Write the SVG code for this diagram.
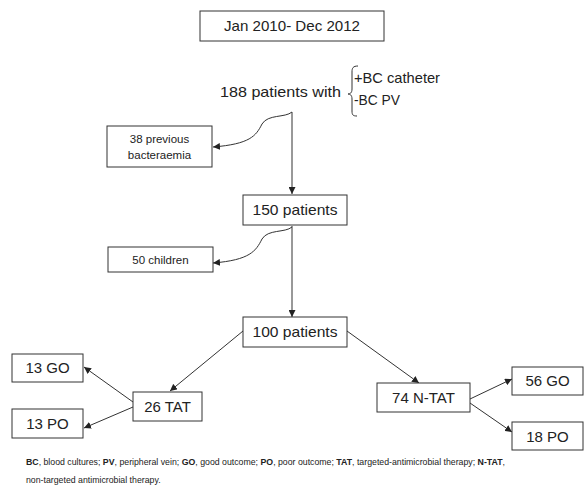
<svg xmlns="http://www.w3.org/2000/svg" width="584" height="486" viewBox="0 0 584 486">
<defs>
<marker id="ah" viewBox="0 0 10 10" refX="10" refY="5" markerWidth="7" markerHeight="7" markerUnits="userSpaceOnUse" orient="auto">
<path d="M0,0 L10,5 L0,10 z" fill="#222"/>
</marker>
<style>
rect{fill:#fff;stroke:#333;stroke-width:1}
text{font-family:"Liberation Sans","Open Sans",sans-serif;fill:#222}
.c{text-anchor:middle}
.big{font-size:15px}
.sm{font-size:11.5px}
.ft{font-size:8.75px}
#connectors path,#connectors line{fill:none;stroke:#333;stroke-width:1;marker-end:url(#ah)}
</style>
</defs>
<rect x="0" y="0" width="584" height="486" style="fill:#fff;stroke:none"/>
<g id="connectors">
<line x1="292" y1="112" x2="292" y2="194"/>
<path d="M292,112 C285,118 268,114 262,124 C256,136 250,144 213,147"/>
<line x1="292" y1="226" x2="292" y2="317"/>
<path d="M292,227 C285,233 268,229 262,239 C256,251 250,260 213,263"/>
<line x1="243" y1="331" x2="170" y2="391"/>
<line x1="347" y1="331" x2="419" y2="383"/>
<line x1="133" y1="402" x2="84" y2="367"/>
<line x1="133" y1="407" x2="84" y2="428"/>
<line x1="470" y1="399" x2="512" y2="379"/>
<line x1="470" y1="403" x2="512" y2="432"/>
</g>
<g id="period">
<rect x="200" y="11" width="184" height="30"/>
<text class="c big" x="292" y="31" textLength="136" lengthAdjust="spacingAndGlyphs">Jan 2010- Dec 2012</text>
</g>
<g id="n188">
<text class="big" x="220" y="97" textLength="121" lengthAdjust="spacingAndGlyphs">188 patients with</text>
<path d="M358,66 C353,66 352,68 352,72 L352,89 C352,93 350,94 348,94 C350,94 352,95 352,99 L352,111 C352,115 353,116 357,116" fill="none" stroke="#333" stroke-width="1"/>
<text class="big" x="354" y="83" textLength="86" lengthAdjust="spacingAndGlyphs">+BC catheter</text>
<text class="big" x="354" y="105" textLength="46" lengthAdjust="spacingAndGlyphs">-BC  PV</text>
</g>
<g id="prev">
<rect x="107" y="126" width="105" height="41"/>
<text class="c sm" x="159.5" y="143">38 previous</text>
<text class="c sm" x="159.5" y="159">bacteraemia</text>
</g>
<g id="n150">
<rect x="243" y="195" width="104" height="30"/>
<text class="c big" x="295" y="215" textLength="85" lengthAdjust="spacingAndGlyphs">150 patients</text>
</g>
<g id="children">
<rect x="108" y="247" width="105" height="25"/>
<text class="c sm" x="160.5" y="263.5">50 children</text>
</g>
<g id="n100">
<rect x="243" y="317" width="104" height="30"/>
<text class="c big" x="295" y="337" textLength="85" lengthAdjust="spacingAndGlyphs">100 patients</text>
</g>
<g id="tat">
<rect x="133" y="392" width="69" height="29"/>
<text class="c big" x="167.5" y="412">26 TAT</text>
</g>
<g id="go13">
<rect x="12" y="354" width="71" height="28"/>
<text class="c big" x="47.5" y="373">13 GO</text>
</g>
<g id="po13">
<rect x="12" y="409" width="71" height="29"/>
<text class="c big" x="47.5" y="429">13 PO</text>
</g>
<g id="ntat">
<rect x="377" y="383" width="93" height="29"/>
<text class="c big" x="423.5" y="403">74 N-TAT</text>
</g>
<g id="go56">
<rect x="512" y="367" width="71" height="28"/>
<text class="c big" x="547.5" y="386">56 GO</text>
</g>
<g id="po18">
<rect x="512" y="422" width="71" height="28"/>
<text class="c big" x="547.5" y="442">18 PO</text>
</g>
<g id="footer">
<text class="ft" x="26" y="465"><tspan font-weight="bold">BC</tspan>, blood cultures; <tspan font-weight="bold">PV</tspan>, peripheral vein; <tspan font-weight="bold">GO</tspan>, good outcome;  <tspan font-weight="bold">PO</tspan>, poor outcome;  <tspan font-weight="bold">TAT</tspan>, targeted-antimicrobial therapy; <tspan font-weight="bold">N-TAT</tspan>,</text>
<text class="ft" x="26" y="483">non-targeted  antimicrobial therapy.</text>
</g>
</svg>
